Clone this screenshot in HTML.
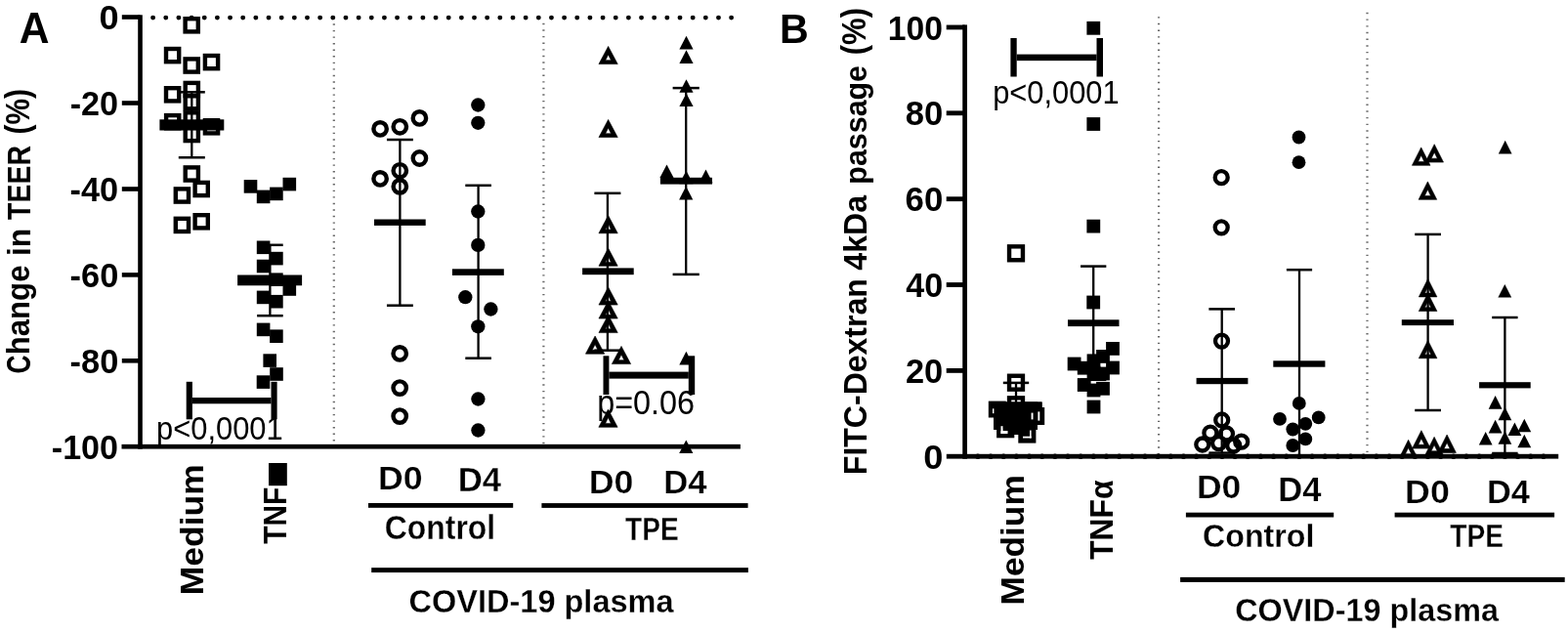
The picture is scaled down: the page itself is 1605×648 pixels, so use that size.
<!DOCTYPE html>
<html><head><meta charset="utf-8"><title>TEER and FITC-Dextran passage</title>
<style>
html,body{margin:0;padding:0;background:#fff;}
body{width:1605px;height:648px;overflow:hidden;}
svg{display:block;}
text{font-family:'Liberation Sans', Arial, Helvetica, sans-serif;fill:#000;}
</style></head>
<body>
<svg width="1605" height="648" viewBox="0 0 1605 648">
<rect width="1605" height="648" fill="#fff"/>
<text transform="translate(19.82,44.19) scale(0.42576,0.44191)" font-weight="bold" font-size="100">A</text>
<text transform="translate(101.55,30.25) scale(0.36170,0.35211)" font-weight="bold" font-size="100">0</text>
<text transform="translate(71.63,117.85) scale(0.34191,0.35211)" font-weight="bold" font-size="100">-20</text>
<text transform="translate(71.53,205.85) scale(0.34265,0.35211)" font-weight="bold" font-size="100">-40</text>
<text transform="translate(71.62,293.85) scale(0.34412,0.35211)" font-weight="bold" font-size="100">-60</text>
<text transform="translate(71.62,381.75) scale(0.34412,0.35211)" font-weight="bold" font-size="100">-80</text>
<text transform="translate(52.84,470.15) scale(0.34063,0.34648)" font-weight="bold" font-size="100">-100</text>
<text transform="translate(31.15,382.45) rotate(-90) scale(0.26308,0.35211)" font-weight="bold" font-size="100">C</text>
<text transform="translate(29.99,363.18) rotate(-90) scale(0.31127,0.33404)" font-weight="bold" font-size="100">hange</text>
<text transform="translate(30.60,262.02) rotate(-90) scale(0.31711,0.32329)" font-weight="bold" font-size="100">in</text>
<text transform="translate(30.60,224.88) rotate(-90) scale(0.28441,0.32319)" font-weight="bold" font-size="100">TEER</text>
<text transform="translate(29.76,137.39) rotate(-90) scale(0.29795,0.34468)" font-weight="bold" font-size="100">(%)</text>
<text transform="translate(160.04,450.08) scale(0.30882,0.32967)" font-weight="normal" font-size="100">p<0,0001</text>
<text transform="translate(611.24,424.14) scale(0.32357,0.35055)" font-weight="normal" font-size="100">p=0.06</text>
<text transform="translate(208.27,609.18) rotate(-90) scale(0.35440,0.32838)" font-weight="bold" font-size="100">Medium</text>
<text transform="translate(293.00,556.70) rotate(-90) scale(0.29842,0.33478)" font-weight="bold" font-size="100">TNF</text>
<text transform="translate(387.11,500.77) scale(0.35641,0.33099)" font-weight="bold" font-size="100" stroke="#fff" stroke-width="0.73">D0</text>
<text transform="translate(468.67,503.00) scale(0.34750,0.35507)" font-weight="bold" font-size="100" stroke="#fff" stroke-width="0.71">D4</text>
<text transform="translate(393.82,551.65) scale(0.31890,0.34730)" font-weight="bold" font-size="100" stroke="#fff" stroke-width="0.75">Control</text>
<text transform="translate(602.70,505.07) scale(0.35726,0.33099)" font-weight="bold" font-size="100" stroke="#fff" stroke-width="0.73">D0</text>
<text transform="translate(679.27,505.40) scale(0.34667,0.34058)" font-weight="bold" font-size="100" stroke="#fff" stroke-width="0.73">D4</text>
<text transform="translate(640.12,552.60) scale(0.28053,0.33623)" font-weight="bold" font-size="100" stroke="#fff" stroke-width="0.81">TPE</text>
<text transform="translate(418.60,626.82) scale(0.32506,0.33723)" font-weight="bold" font-size="100" stroke="#fff" stroke-width="0.75">COVID-19 plasma</text>
<text transform="translate(798.12,43.70) scale(0.41148,0.42464)" font-weight="bold" font-size="100">B</text>
<text transform="translate(908.78,40.75) scale(0.33694,0.35070)" font-weight="bold" font-size="100">100</text>
<text transform="translate(926.86,127.85) scale(0.34615,0.35211)" font-weight="bold" font-size="100">80</text>
<text transform="translate(926.61,215.85) scale(0.34757,0.35211)" font-weight="bold" font-size="100">60</text>
<text transform="translate(927.32,303.65) scale(0.34095,0.35211)" font-weight="bold" font-size="100">40</text>
<text transform="translate(926.97,391.55) scale(0.34423,0.35211)" font-weight="bold" font-size="100">20</text>
<text transform="translate(945.25,480.35) scale(0.36170,0.35211)" font-weight="bold" font-size="100">0</text>
<text transform="translate(886.67,486.14) rotate(-90) scale(0.32016,0.32958)" font-weight="bold" font-size="100">FITC-Dextran</text>
<text transform="translate(886.67,276.64) rotate(-90) scale(0.32059,0.33378)" font-weight="bold" font-size="100">4kDa</text>
<text transform="translate(886.51,188.63) rotate(-90) scale(0.30410,0.31867)" font-weight="bold" font-size="100">passage</text>
<text transform="translate(885.96,56.36) rotate(-90) scale(0.31164,0.34468)" font-weight="bold" font-size="100">(%)</text>
<text transform="translate(1016.14,106.48) scale(0.30858,0.33407)" font-weight="normal" font-size="100">p<0,0001</text>
<text transform="translate(1047.77,619.47) rotate(-90) scale(0.35275,0.32568)" font-weight="bold" font-size="100">Medium</text>
<text transform="translate(1139.16,572.82) rotate(-90) scale(0.31772,0.34143)" font-weight="bold" font-size="100">TNFα</text>
<text transform="translate(1224.92,510.37) scale(0.35470,0.32535)" font-weight="bold" font-size="100" stroke="#fff" stroke-width="0.74">D0</text>
<text transform="translate(1308.28,513.00) scale(0.34583,0.34203)" font-weight="bold" font-size="100" stroke="#fff" stroke-width="0.73">D4</text>
<text transform="translate(1231.11,560.36) scale(0.32151,0.33784)" font-weight="bold" font-size="100" stroke="#fff" stroke-width="0.76">Control</text>
<text transform="translate(1438.10,515.07) scale(0.35726,0.33099)" font-weight="bold" font-size="100" stroke="#fff" stroke-width="0.73">D0</text>
<text transform="translate(1521.99,515.40) scale(0.34417,0.34058)" font-weight="bold" font-size="100" stroke="#fff" stroke-width="0.73">D4</text>
<text transform="translate(1484.32,560.40) scale(0.28105,0.33043)" font-weight="bold" font-size="100" stroke="#fff" stroke-width="0.82">TPE</text>
<text transform="translate(1264.21,636.24) scale(0.32373,0.32660)" font-weight="bold" font-size="100" stroke="#fff" stroke-width="0.77">COVID-19 plasma</text>
<line x1="341.8" y1="24.35" x2="341.8" y2="456" stroke="#666" stroke-width="2.2" stroke-dasharray="1.4 5.15"/>
<line x1="556.4" y1="23.75" x2="556.4" y2="456" stroke="#666" stroke-width="2.2" stroke-dasharray="1.4 5.199999999999999"/>
<circle cx="156.60" cy="18.1" r="2.45" fill="#000"/><circle cx="169.76" cy="18.1" r="2.45" fill="#000"/><circle cx="182.91" cy="18.1" r="2.45" fill="#000"/><circle cx="196.07" cy="18.1" r="2.45" fill="#000"/><circle cx="209.22" cy="18.1" r="2.45" fill="#000"/><circle cx="222.38" cy="18.1" r="2.45" fill="#000"/><circle cx="235.54" cy="18.1" r="2.45" fill="#000"/><circle cx="248.69" cy="18.1" r="2.45" fill="#000"/><circle cx="261.85" cy="18.1" r="2.45" fill="#000"/><circle cx="275.00" cy="18.1" r="2.45" fill="#000"/><circle cx="288.16" cy="18.1" r="2.45" fill="#000"/><circle cx="301.32" cy="18.1" r="2.45" fill="#000"/><circle cx="314.47" cy="18.1" r="2.45" fill="#000"/><circle cx="327.63" cy="18.1" r="2.45" fill="#000"/><circle cx="340.78" cy="18.1" r="2.45" fill="#000"/><circle cx="353.94" cy="18.1" r="2.45" fill="#000"/><circle cx="367.10" cy="18.1" r="2.45" fill="#000"/><circle cx="380.25" cy="18.1" r="2.45" fill="#000"/><circle cx="393.41" cy="18.1" r="2.45" fill="#000"/><circle cx="406.56" cy="18.1" r="2.45" fill="#000"/><circle cx="419.72" cy="18.1" r="2.45" fill="#000"/><circle cx="432.88" cy="18.1" r="2.45" fill="#000"/><circle cx="446.03" cy="18.1" r="2.45" fill="#000"/><circle cx="459.19" cy="18.1" r="2.45" fill="#000"/><circle cx="472.34" cy="18.1" r="2.45" fill="#000"/><circle cx="485.50" cy="18.1" r="2.45" fill="#000"/><circle cx="498.66" cy="18.1" r="2.45" fill="#000"/><circle cx="511.81" cy="18.1" r="2.45" fill="#000"/><circle cx="524.97" cy="18.1" r="2.45" fill="#000"/><circle cx="538.12" cy="18.1" r="2.45" fill="#000"/><circle cx="551.28" cy="18.1" r="2.45" fill="#000"/><circle cx="564.44" cy="18.1" r="2.45" fill="#000"/><circle cx="577.59" cy="18.1" r="2.45" fill="#000"/><circle cx="590.75" cy="18.1" r="2.45" fill="#000"/><circle cx="603.90" cy="18.1" r="2.45" fill="#000"/><circle cx="617.06" cy="18.1" r="2.45" fill="#000"/><circle cx="630.22" cy="18.1" r="2.45" fill="#000"/><circle cx="643.37" cy="18.1" r="2.45" fill="#000"/><circle cx="656.53" cy="18.1" r="2.45" fill="#000"/><circle cx="669.68" cy="18.1" r="2.45" fill="#000"/><circle cx="682.84" cy="18.1" r="2.45" fill="#000"/><circle cx="696.00" cy="18.1" r="2.45" fill="#000"/><circle cx="709.15" cy="18.1" r="2.45" fill="#000"/><circle cx="722.31" cy="18.1" r="2.45" fill="#000"/><circle cx="735.46" cy="18.1" r="2.45" fill="#000"/><circle cx="748.62" cy="18.1" r="2.45" fill="#000"/>
<rect x="141.20" y="15.30" width="4.60" height="444.30" fill="#000"/>
<rect x="124.80" y="15.20" width="18.70" height="4.60" fill="#000"/>
<rect x="124.80" y="103.20" width="18.70" height="4.60" fill="#000"/>
<rect x="124.80" y="191.20" width="18.70" height="4.60" fill="#000"/>
<rect x="124.80" y="279.10" width="18.70" height="4.60" fill="#000"/>
<rect x="124.80" y="367.00" width="18.70" height="4.60" fill="#000"/>
<rect x="124.50" y="454.85" width="633.40" height="4.70" fill="#000"/>
<rect x="377.00" y="515.00" width="148.20" height="4.80" fill="#000"/>
<rect x="554.40" y="515.10" width="211.20" height="4.80" fill="#000"/>
<rect x="380.20" y="581.15" width="385.70" height="4.90" fill="#000"/>
<rect x="189.60" y="19.20" width="13.2" height="13.2" fill="none" stroke="#000" stroke-width="4.4"/>
<rect x="170.00" y="50.00" width="13.2" height="13.2" fill="none" stroke="#000" stroke-width="4.4"/>
<rect x="189.60" y="60.40" width="13.2" height="13.2" fill="none" stroke="#000" stroke-width="4.4"/>
<rect x="209.90" y="57.00" width="13.2" height="13.2" fill="none" stroke="#000" stroke-width="4.4"/>
<rect x="170.00" y="90.20" width="13.2" height="13.2" fill="none" stroke="#000" stroke-width="4.4"/>
<rect x="189.70" y="84.90" width="13.2" height="13.2" fill="none" stroke="#000" stroke-width="4.4"/>
<rect x="189.70" y="98.10" width="13.2" height="13.2" fill="none" stroke="#000" stroke-width="4.4"/>
<rect x="189.70" y="115.30" width="13.2" height="13.2" fill="none" stroke="#000" stroke-width="4.4"/>
<rect x="189.70" y="130.90" width="13.2" height="13.2" fill="none" stroke="#000" stroke-width="4.4"/>
<rect x="170.10" y="118.10" width="13.2" height="13.2" fill="none" stroke="#000" stroke-width="4.4"/>
<rect x="209.90" y="123.20" width="13.2" height="13.2" fill="none" stroke="#000" stroke-width="4.4"/>
<rect x="189.70" y="171.40" width="13.2" height="13.2" fill="none" stroke="#000" stroke-width="4.4"/>
<rect x="199.60" y="186.90" width="13.2" height="13.2" fill="none" stroke="#000" stroke-width="4.4"/>
<rect x="179.80" y="193.40" width="13.2" height="13.2" fill="none" stroke="#000" stroke-width="4.4"/>
<rect x="179.80" y="223.80" width="13.2" height="13.2" fill="none" stroke="#000" stroke-width="4.4"/>
<rect x="199.60" y="220.20" width="13.2" height="13.2" fill="none" stroke="#000" stroke-width="4.4"/>
<rect x="249.70" y="184.10" width="13.6" height="13.6" fill="#000"/>
<rect x="262.80" y="194.60" width="13.6" height="13.6" fill="#000"/>
<rect x="276.10" y="191.60" width="13.6" height="13.6" fill="#000"/>
<rect x="289.50" y="181.80" width="13.6" height="13.6" fill="#000"/>
<rect x="262.80" y="246.50" width="13.6" height="13.6" fill="#000"/>
<rect x="276.10" y="257.80" width="13.6" height="13.6" fill="#000"/>
<rect x="262.80" y="265.70" width="13.6" height="13.6" fill="#000"/>
<rect x="276.10" y="279.40" width="13.6" height="13.6" fill="#000"/>
<rect x="289.50" y="289.20" width="13.6" height="13.6" fill="#000"/>
<rect x="262.80" y="297.60" width="13.6" height="13.6" fill="#000"/>
<rect x="276.10" y="301.90" width="13.6" height="13.6" fill="#000"/>
<rect x="262.80" y="330.60" width="13.6" height="13.6" fill="#000"/>
<rect x="276.10" y="337.40" width="13.6" height="13.6" fill="#000"/>
<rect x="269.40" y="362.30" width="13.6" height="13.6" fill="#000"/>
<rect x="276.20" y="376.20" width="13.6" height="13.6" fill="#000"/>
<rect x="262.70" y="384.30" width="13.6" height="13.6" fill="#000"/>
<circle cx="389.10" cy="131.90" r="6.7" fill="none" stroke="#000" stroke-width="4.4"/>
<circle cx="409.30" cy="129.80" r="6.7" fill="none" stroke="#000" stroke-width="4.4"/>
<circle cx="429.40" cy="120.90" r="6.7" fill="none" stroke="#000" stroke-width="4.4"/>
<circle cx="429.40" cy="162.00" r="6.7" fill="none" stroke="#000" stroke-width="4.4"/>
<circle cx="409.30" cy="174.80" r="6.7" fill="none" stroke="#000" stroke-width="4.4"/>
<circle cx="389.10" cy="182.90" r="6.7" fill="none" stroke="#000" stroke-width="4.4"/>
<circle cx="409.30" cy="190.90" r="6.7" fill="none" stroke="#000" stroke-width="4.4"/>
<circle cx="409.20" cy="361.90" r="6.7" fill="none" stroke="#000" stroke-width="4.4"/>
<circle cx="409.20" cy="397.10" r="6.7" fill="none" stroke="#000" stroke-width="4.4"/>
<circle cx="409.20" cy="426.10" r="6.7" fill="none" stroke="#000" stroke-width="4.4"/>
<circle cx="489.30" cy="107.50" r="7.15" fill="#000"/>
<circle cx="489.30" cy="125.80" r="7.15" fill="#000"/>
<circle cx="489.30" cy="216.50" r="7.15" fill="#000"/>
<circle cx="489.30" cy="250.90" r="7.15" fill="#000"/>
<circle cx="476.30" cy="304.20" r="7.15" fill="#000"/>
<circle cx="502.40" cy="316.50" r="7.15" fill="#000"/>
<circle cx="489.30" cy="334.30" r="7.15" fill="#000"/>
<circle cx="489.40" cy="408.50" r="7.15" fill="#000"/>
<circle cx="489.40" cy="440.50" r="7.15" fill="#000"/>
<path d="M622.60,47.40L632.25,65.60L612.95,65.60ZM622.60,55.90L619.75,61.70L625.45,61.70Z" fill="#000" fill-rule="evenodd" stroke="#000" stroke-width="0.6" stroke-linejoin="round"/>
<path d="M622.60,122.40L632.25,140.60L612.95,140.60ZM622.60,130.90L619.75,136.70L625.45,136.70Z" fill="#000" fill-rule="evenodd" stroke="#000" stroke-width="0.6" stroke-linejoin="round"/>
<path d="M622.60,220.60L632.25,238.80L612.95,238.80ZM622.60,229.10L619.75,234.90L625.45,234.90Z" fill="#000" fill-rule="evenodd" stroke="#000" stroke-width="0.6" stroke-linejoin="round"/>
<path d="M622.60,254.10L632.25,272.30L612.95,272.30ZM622.60,262.60L619.75,268.40L625.45,268.40Z" fill="#000" fill-rule="evenodd" stroke="#000" stroke-width="0.6" stroke-linejoin="round"/>
<path d="M622.60,293.90L632.25,312.10L612.95,312.10ZM622.60,302.40L619.75,308.20L625.45,308.20Z" fill="#000" fill-rule="evenodd" stroke="#000" stroke-width="0.6" stroke-linejoin="round"/>
<path d="M622.60,307.90L632.25,326.10L612.95,326.10ZM622.60,316.40L619.75,322.20L625.45,322.20Z" fill="#000" fill-rule="evenodd" stroke="#000" stroke-width="0.6" stroke-linejoin="round"/>
<path d="M622.60,322.40L632.25,340.60L612.95,340.60ZM622.60,330.90L619.75,336.70L625.45,336.70Z" fill="#000" fill-rule="evenodd" stroke="#000" stroke-width="0.6" stroke-linejoin="round"/>
<path d="M609.10,344.00L618.75,362.20L599.45,362.20ZM609.10,352.50L606.25,358.30L611.95,358.30Z" fill="#000" fill-rule="evenodd" stroke="#000" stroke-width="0.6" stroke-linejoin="round"/>
<path d="M636.00,354.40L645.65,372.60L626.35,372.60ZM636.00,362.90L633.15,368.70L638.85,368.70Z" fill="#000" fill-rule="evenodd" stroke="#000" stroke-width="0.6" stroke-linejoin="round"/>
<path d="M622.50,419.10L632.15,437.30L612.85,437.30ZM622.50,427.60L619.65,433.40L625.35,433.40Z" fill="#000" fill-rule="evenodd" stroke="#000" stroke-width="0.6" stroke-linejoin="round"/>
<path d="M702.50,36.80L709.60,50.40L695.40,50.40Z" fill="#000"/>
<path d="M702.50,51.30L709.60,64.90L695.40,64.90Z" fill="#000"/>
<path d="M702.50,81.20L709.60,94.80L695.40,94.80Z" fill="#000"/>
<path d="M702.50,95.40L709.60,109.00L695.40,109.00Z" fill="#000"/>
<path d="M682.50,168.50L689.60,182.10L675.40,182.10Z" fill="#000"/>
<path d="M702.40,174.70L709.50,188.30L695.30,188.30Z" fill="#000"/>
<path d="M722.50,173.60L729.60,187.20L715.40,187.20Z" fill="#000"/>
<path d="M702.20,190.80L709.30,204.40L695.10,204.40Z" fill="#000"/>
<path d="M702.40,359.80L709.50,373.40L695.30,373.40Z" fill="#000"/>
<path d="M702.30,450.40L709.40,464.00L695.20,464.00Z" fill="#000"/>
<rect x="195.15" y="94.30" width="2.30" height="66.95" fill="#000"/><rect x="182.80" y="93.05" width="27.00" height="2.50" fill="#000"/><rect x="182.80" y="160.00" width="27.00" height="2.50" fill="#000"/>
<rect x="163.40" y="122.30" width="65.90" height="11.20" fill="#000"/>
<rect x="275.25" y="250.80" width="2.30" height="72.40" fill="#000"/><rect x="263.10" y="249.55" width="26.60" height="2.50" fill="#000"/><rect x="263.10" y="321.95" width="26.60" height="2.50" fill="#000"/>
<rect x="243.10" y="281.50" width="66.00" height="10.80" fill="#000"/>
<rect x="408.25" y="143.00" width="2.30" height="169.70" fill="#000"/><rect x="395.95" y="141.75" width="26.90" height="2.50" fill="#000"/><rect x="395.95" y="311.45" width="26.90" height="2.50" fill="#000"/>
<rect x="383.00" y="224.50" width="52.70" height="6.40" fill="#000"/>
<rect x="488.45" y="189.80" width="2.30" height="176.90" fill="#000"/><rect x="476.30" y="188.55" width="26.60" height="2.50" fill="#000"/><rect x="476.30" y="365.45" width="26.60" height="2.50" fill="#000"/>
<rect x="462.90" y="275.30" width="52.90" height="6.60" fill="#000"/>
<rect x="620.75" y="197.80" width="2.30" height="160.90" fill="#000"/><rect x="608.40" y="196.55" width="27.00" height="2.50" fill="#000"/><rect x="608.40" y="357.45" width="27.00" height="2.50" fill="#000"/>
<rect x="596.10" y="274.40" width="52.60" height="6.80" fill="#000"/>
<rect x="701.05" y="90.10" width="2.30" height="190.80" fill="#000"/><rect x="688.60" y="88.85" width="27.20" height="2.50" fill="#000"/><rect x="688.60" y="279.65" width="27.20" height="2.50" fill="#000"/>
<rect x="675.90" y="181.80" width="53.10" height="6.80" fill="#000"/>
<rect x="190.70" y="390.80" width="6.20" height="38.50" fill="#000"/><rect x="277.50" y="390.80" width="6.10" height="38.50" fill="#000"/><rect x="196.90" y="407.00" width="80.60" height="6.30" fill="#000"/>
<rect x="617.50" y="364.30" width="5.90" height="39.70" fill="#000"/><rect x="704.80" y="364.30" width="6.40" height="39.70" fill="#000"/><rect x="623.40" y="380.60" width="81.40" height="7.00" fill="#000"/>
<rect x="275.00" y="474.00" width="18.80" height="23.20" fill="#000"/>
<line x1="1186.1" y1="17.15" x2="1186.1" y2="466" stroke="#666" stroke-width="2.2" stroke-dasharray="1.4 5.27"/>
<line x1="1399.5" y1="12.75" x2="1399.5" y2="466" stroke="#666" stroke-width="2.2" stroke-dasharray="1.4 5.300000000000001"/>
<rect x="985.25" y="25.40" width="4.70" height="444.30" fill="#000"/>
<rect x="968.70" y="25.55" width="18.90" height="4.80" fill="#000"/>
<rect x="968.70" y="113.40" width="18.90" height="4.80" fill="#000"/>
<rect x="968.70" y="201.30" width="18.90" height="4.80" fill="#000"/>
<rect x="968.70" y="289.10" width="18.90" height="4.80" fill="#000"/>
<rect x="968.70" y="377.00" width="18.90" height="4.80" fill="#000"/>
<rect x="968.80" y="464.80" width="626.40" height="4.80" fill="#000"/>
<circle cx="1000.90" cy="467.2" r="2.75" fill="#000"/><circle cx="1014.06" cy="467.2" r="2.75" fill="#000"/><circle cx="1027.22" cy="467.2" r="2.75" fill="#000"/><circle cx="1040.38" cy="467.2" r="2.75" fill="#000"/><circle cx="1053.54" cy="467.2" r="2.75" fill="#000"/><circle cx="1066.70" cy="467.2" r="2.75" fill="#000"/><circle cx="1079.86" cy="467.2" r="2.75" fill="#000"/><circle cx="1093.02" cy="467.2" r="2.75" fill="#000"/><circle cx="1106.18" cy="467.2" r="2.75" fill="#000"/><circle cx="1119.34" cy="467.2" r="2.75" fill="#000"/><circle cx="1132.50" cy="467.2" r="2.75" fill="#000"/><circle cx="1145.66" cy="467.2" r="2.75" fill="#000"/><circle cx="1158.82" cy="467.2" r="2.75" fill="#000"/><circle cx="1171.98" cy="467.2" r="2.75" fill="#000"/><circle cx="1185.14" cy="467.2" r="2.75" fill="#000"/><circle cx="1198.30" cy="467.2" r="2.75" fill="#000"/><circle cx="1211.46" cy="467.2" r="2.75" fill="#000"/><circle cx="1224.62" cy="467.2" r="2.75" fill="#000"/><circle cx="1237.78" cy="467.2" r="2.75" fill="#000"/><circle cx="1250.94" cy="467.2" r="2.75" fill="#000"/><circle cx="1264.10" cy="467.2" r="2.75" fill="#000"/><circle cx="1277.26" cy="467.2" r="2.75" fill="#000"/><circle cx="1290.42" cy="467.2" r="2.75" fill="#000"/><circle cx="1303.58" cy="467.2" r="2.75" fill="#000"/><circle cx="1316.74" cy="467.2" r="2.75" fill="#000"/><circle cx="1329.90" cy="467.2" r="2.75" fill="#000"/><circle cx="1343.06" cy="467.2" r="2.75" fill="#000"/><circle cx="1356.22" cy="467.2" r="2.75" fill="#000"/><circle cx="1369.38" cy="467.2" r="2.75" fill="#000"/><circle cx="1382.54" cy="467.2" r="2.75" fill="#000"/><circle cx="1395.70" cy="467.2" r="2.75" fill="#000"/><circle cx="1408.86" cy="467.2" r="2.75" fill="#000"/><circle cx="1422.02" cy="467.2" r="2.75" fill="#000"/><circle cx="1435.18" cy="467.2" r="2.75" fill="#000"/><circle cx="1448.34" cy="467.2" r="2.75" fill="#000"/><circle cx="1461.50" cy="467.2" r="2.75" fill="#000"/><circle cx="1474.66" cy="467.2" r="2.75" fill="#000"/><circle cx="1487.82" cy="467.2" r="2.75" fill="#000"/><circle cx="1500.98" cy="467.2" r="2.75" fill="#000"/><circle cx="1514.14" cy="467.2" r="2.75" fill="#000"/><circle cx="1527.30" cy="467.2" r="2.75" fill="#000"/><circle cx="1540.46" cy="467.2" r="2.75" fill="#000"/><circle cx="1553.62" cy="467.2" r="2.75" fill="#000"/><circle cx="1566.78" cy="467.2" r="2.75" fill="#000"/><circle cx="1579.94" cy="467.2" r="2.75" fill="#000"/>
<rect x="1213.90" y="524.70" width="151.30" height="4.80" fill="#000"/>
<rect x="1427.60" y="524.70" width="163.50" height="4.80" fill="#000"/>
<rect x="1208.10" y="590.90" width="393.60" height="5.00" fill="#000"/>
<rect x="1033.05" y="252.35" width="13.9" height="13.9" fill="none" stroke="#000" stroke-width="4.4"/>
<rect x="1033.05" y="384.75" width="13.9" height="13.9" fill="none" stroke="#000" stroke-width="4.4"/>
<rect x="1033.05" y="407.35" width="13.9" height="13.9" fill="none" stroke="#000" stroke-width="4.4"/>
<rect x="1011.80" y="410.60" width="17.90" height="16.90" fill="#000"/>
<rect x="1017.00" y="418.00" width="18.00" height="18.00" fill="#000"/>
<rect x="1020.10" y="430.30" width="18.20" height="18.00" fill="#000"/>
<rect x="1042.30" y="435.60" width="18.10" height="18.00" fill="#000"/>
<rect x="1049.00" y="411.50" width="17.70" height="17.50" fill="#000"/>
<rect x="1051.40" y="417.00" width="17.80" height="18.00" fill="#000"/>
<rect x="1017.00" y="411.50" width="45.00" height="28.50" fill="#000"/>
<rect x="1030.00" y="436.00" width="13.00" height="9.00" fill="#000"/>
<rect x="1016" y="418.3" width="1.40" height="4.90" fill="#fff"/>
<rect x="1055.6" y="422.6" width="1.90" height="6.80" fill="#fff"/>
<rect x="1062.4" y="421.4" width="1.90" height="9.20" fill="#fff"/>
<rect x="1024.5" y="436.2" width="2.10" height="7.80" fill="#fff"/>
<rect x="1024.5" y="441" width="7.00" height="3.00" fill="#fff"/>
<rect x="1047" y="446.7" width="8.60" height="1.80" fill="#fff"/>
<rect x="1054.1" y="440.5" width="1.50" height="8.00" fill="#fff"/>
<rect x="1112.40" y="21.90" width="13.8" height="13.8" fill="#000"/>
<rect x="1112.40" y="120.10" width="13.8" height="13.8" fill="#000"/>
<rect x="1112.40" y="224.70" width="13.8" height="13.8" fill="#000"/>
<rect x="1112.30" y="302.60" width="13.8" height="13.8" fill="#000"/>
<rect x="1132.10" y="350.00" width="13.8" height="13.8" fill="#000"/>
<rect x="1122.10" y="358.00" width="13.8" height="13.8" fill="#000"/>
<rect x="1112.60" y="362.40" width="13.8" height="13.8" fill="#000"/>
<rect x="1092.70" y="365.60" width="13.8" height="13.8" fill="#000"/>
<rect x="1132.10" y="369.60" width="13.8" height="13.8" fill="#000"/>
<rect x="1102.80" y="369.80" width="13.8" height="13.8" fill="#000"/>
<rect x="1112.60" y="374.90" width="13.8" height="13.8" fill="#000"/>
<rect x="1122.10" y="375.60" width="13.8" height="13.8" fill="#000"/>
<rect x="1102.80" y="387.10" width="13.8" height="13.8" fill="#000"/>
<rect x="1122.10" y="390.90" width="13.8" height="13.8" fill="#000"/>
<rect x="1112.60" y="392.60" width="13.8" height="13.8" fill="#000"/>
<rect x="1112.60" y="409.60" width="13.8" height="13.8" fill="#000"/>
<circle cx="1250.20" cy="181.70" r="6.5" fill="none" stroke="#000" stroke-width="4.3"/>
<circle cx="1250.20" cy="232.80" r="6.5" fill="none" stroke="#000" stroke-width="4.3"/>
<circle cx="1250.50" cy="349.10" r="6.5" fill="none" stroke="#000" stroke-width="4.3"/>
<circle cx="1250.70" cy="430.00" r="6.5" fill="none" stroke="#000" stroke-width="4.3"/>
<circle cx="1238.90" cy="443.20" r="6.5" fill="none" stroke="#000" stroke-width="4.3"/>
<circle cx="1255.50" cy="444.00" r="6.5" fill="none" stroke="#000" stroke-width="4.3"/>
<circle cx="1230.80" cy="455.00" r="6.5" fill="none" stroke="#000" stroke-width="4.3"/>
<circle cx="1247.50" cy="453.60" r="6.5" fill="none" stroke="#000" stroke-width="4.3"/>
<circle cx="1262.70" cy="456.00" r="6.5" fill="none" stroke="#000" stroke-width="4.3"/>
<circle cx="1270.70" cy="452.20" r="6.5" fill="none" stroke="#000" stroke-width="4.3"/>
<circle cx="1329.50" cy="140.50" r="6.9" fill="#000"/>
<circle cx="1329.50" cy="166.20" r="6.9" fill="#000"/>
<circle cx="1329.80" cy="412.90" r="6.9" fill="#000"/>
<circle cx="1310.00" cy="428.90" r="6.9" fill="#000"/>
<circle cx="1349.70" cy="427.40" r="6.9" fill="#000"/>
<circle cx="1336.30" cy="433.80" r="6.9" fill="#000"/>
<circle cx="1323.30" cy="439.50" r="6.9" fill="#000"/>
<circle cx="1336.30" cy="449.40" r="6.9" fill="#000"/>
<circle cx="1323.30" cy="456.00" r="6.9" fill="#000"/>
<path d="M1454.70,150.90L1464.00,169.30L1445.40,169.30ZM1454.70,159.10L1451.60,165.40L1457.80,165.40Z" fill="#000" fill-rule="evenodd" stroke="#000" stroke-width="0.6" stroke-linejoin="round"/>
<path d="M1468.20,147.70L1477.50,166.10L1458.90,166.10ZM1468.20,155.90L1465.10,162.20L1471.30,162.20Z" fill="#000" fill-rule="evenodd" stroke="#000" stroke-width="0.6" stroke-linejoin="round"/>
<path d="M1461.40,185.90L1470.70,204.30L1452.10,204.30ZM1461.40,194.10L1458.30,200.40L1464.50,200.40Z" fill="#000" fill-rule="evenodd" stroke="#000" stroke-width="0.6" stroke-linejoin="round"/>
<path d="M1461.60,285.50L1470.90,303.90L1452.30,303.90ZM1461.60,293.70L1458.50,300.00L1464.70,300.00Z" fill="#000" fill-rule="evenodd" stroke="#000" stroke-width="0.6" stroke-linejoin="round"/>
<path d="M1461.60,300.20L1470.90,318.60L1452.30,318.60ZM1461.60,308.40L1458.50,314.70L1464.70,314.70Z" fill="#000" fill-rule="evenodd" stroke="#000" stroke-width="0.6" stroke-linejoin="round"/>
<path d="M1461.60,348.40L1470.90,366.80L1452.30,366.80ZM1461.60,356.60L1458.50,362.90L1464.70,362.90Z" fill="#000" fill-rule="evenodd" stroke="#000" stroke-width="0.6" stroke-linejoin="round"/>
<path d="M1441.60,450.30L1450.90,468.70L1432.30,468.70ZM1441.60,458.50L1438.50,464.80L1444.70,464.80Z" fill="#000" fill-rule="evenodd" stroke="#000" stroke-width="0.6" stroke-linejoin="round"/>
<path d="M1454.90,440.70L1464.20,459.10L1445.60,459.10ZM1454.90,448.90L1451.80,455.20L1458.00,455.20Z" fill="#000" fill-rule="evenodd" stroke="#000" stroke-width="0.6" stroke-linejoin="round"/>
<path d="M1468.10,447.30L1477.40,465.70L1458.80,465.70ZM1468.10,455.50L1465.00,461.80L1471.20,461.80Z" fill="#000" fill-rule="evenodd" stroke="#000" stroke-width="0.6" stroke-linejoin="round"/>
<path d="M1481.10,445.00L1490.40,463.40L1471.80,463.40ZM1481.10,453.20L1478.00,459.50L1484.20,459.50Z" fill="#000" fill-rule="evenodd" stroke="#000" stroke-width="0.6" stroke-linejoin="round"/>
<path d="M1540.70,143.80L1547.60,157.40L1533.80,157.40Z" fill="#000"/>
<path d="M1540.30,290.90L1547.20,304.50L1533.40,304.50Z" fill="#000"/>
<path d="M1530.60,405.10L1537.50,418.70L1523.70,418.70Z" fill="#000"/>
<path d="M1540.40,416.70L1547.30,430.30L1533.50,430.30Z" fill="#000"/>
<path d="M1530.60,429.80L1537.50,443.40L1523.70,443.40Z" fill="#000"/>
<path d="M1560.30,428.70L1567.20,442.30L1553.40,442.30Z" fill="#000"/>
<path d="M1550.40,432.40L1557.30,446.00L1543.50,446.00Z" fill="#000"/>
<path d="M1520.70,442.00L1527.60,455.60L1513.80,455.60Z" fill="#000"/>
<path d="M1540.40,441.20L1547.30,454.80L1533.50,454.80Z" fill="#000"/>
<path d="M1560.30,444.70L1567.20,458.30L1553.40,458.30Z" fill="#000"/>
<rect x="1038.85" y="391.90" width="2.30" height="45.60" fill="#000"/><rect x="1026.80" y="390.65" width="26.40" height="2.50" fill="#000"/><rect x="1026.80" y="436.25" width="26.40" height="2.50" fill="#000"/>
<rect x="1013.60" y="411.50" width="52.80" height="6.50" fill="#000"/>
<rect x="1118.05" y="272.60" width="2.30" height="116.20" fill="#000"/><rect x="1106.05" y="271.35" width="26.30" height="2.50" fill="#000"/><rect x="1106.05" y="387.55" width="26.30" height="2.50" fill="#000"/>
<rect x="1093.00" y="327.30" width="52.50" height="6.80" fill="#000"/>
<rect x="1249.55" y="316.40" width="2.30" height="147.20" fill="#000"/><rect x="1237.35" y="315.15" width="26.70" height="2.50" fill="#000"/><rect x="1237.35" y="462.35" width="26.70" height="2.50" fill="#000"/>
<rect x="1224.60" y="386.90" width="52.80" height="6.30" fill="#000"/>
<rect x="1328.85" y="276.20" width="2.30" height="191.00" fill="#000"/><rect x="1316.90" y="274.95" width="26.20" height="2.50" fill="#000"/><rect x="1316.90" y="465.95" width="26.20" height="2.50" fill="#000"/>
<rect x="1303.30" y="369.30" width="53.10" height="6.40" fill="#000"/>
<rect x="1460.45" y="239.90" width="2.30" height="180.10" fill="#000"/><rect x="1448.20" y="238.65" width="26.80" height="2.50" fill="#000"/><rect x="1448.20" y="418.75" width="26.80" height="2.50" fill="#000"/>
<rect x="1434.80" y="327.20" width="53.20" height="5.90" fill="#000"/>
<rect x="1539.25" y="325.00" width="2.30" height="139.00" fill="#000"/><rect x="1527.20" y="323.75" width="26.40" height="2.50" fill="#000"/><rect x="1527.20" y="462.75" width="26.40" height="2.50" fill="#000"/>
<rect x="1514.10" y="391.20" width="52.60" height="6.20" fill="#000"/>
<rect x="1034.40" y="39.00" width="6.30" height="39.50" fill="#000"/><rect x="1122.50" y="39.00" width="6.50" height="39.50" fill="#000"/><rect x="1040.70" y="55.60" width="81.80" height="6.50" fill="#000"/>
</svg>
</body></html>
